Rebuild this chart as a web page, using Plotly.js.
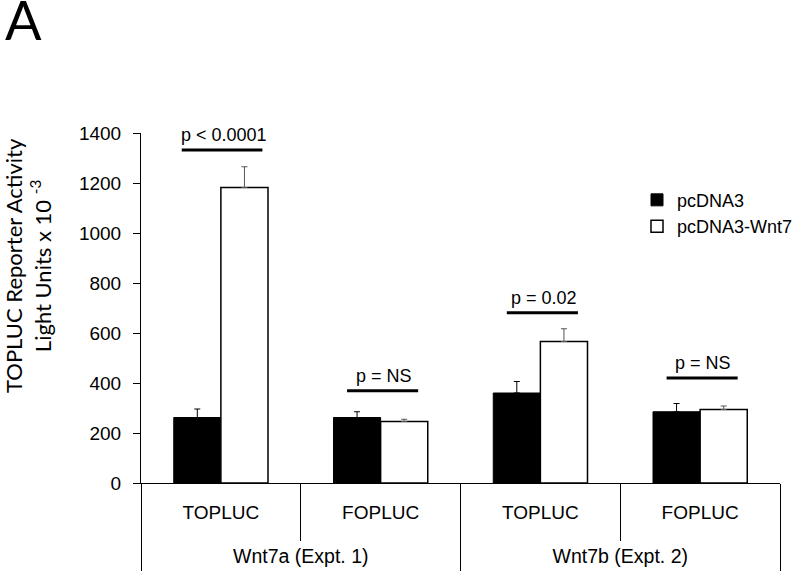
<!DOCTYPE html>
<html>
<head>
<meta charset="utf-8">
<script src="https://cdn.plot.ly/plotly-3.0.1.min.js"></script>
<style>html,body{margin:0;padding:0;background:#fff;}#chart{width:800px;height:574px;}</style>
</head>
<body>
<div id="chart"></div>
<script>
// ---- data ----
const groups = ['Wnt7a (Expt. 1)', 'Wnt7a (Expt. 1)', 'Wnt7b (Expt. 2)', 'Wnt7b (Expt. 2)'];
const reporters = ['TOPLUC', 'FOPLUC', 'TOPLUC', 'FOPLUC'];
const groupLabels = ['Wnt7a (Expt. 1)', 'Wnt7b (Expt. 2)'];
const seriesNames = ['pcDNA3', 'pcDNA3-Wnt7'];
const pcDNA3 = [262, 262, 360, 285];
const pcDNA3Err = [34, 23, 46, 33];
const wnt7 = [1182, 246, 566, 294];
const wnt7Err = [83, 9, 51, 14];
const sigLabels = ['p < 0.0001', 'p = NS', 'p = 0.02', 'p = NS'];
const sigLineY = [1332, 369, 681, 420];
const yTicks = [0, 200, 400, 600, 800, 1000, 1200, 1400];
const yTitle = 'TOPLUC Reporter Activity<br>Light Units x 10 <sup>-3</sup>';

// ---- build ----
const keys = groups.map((g, i) => g + ' | ' + reporters[i]);
const font = 'Liberation Sans, Arial, sans-serif';
const titleFont = 'Lato, Carlito, sans-serif';

const traces = [
  {
    type: 'bar', name: seriesNames[0], x: keys, y: pcDNA3,
    marker: {color: '#000000', line: {color: '#000000', width: 1}},
    error_y: {type: 'data', symmetric: false, array: pcDNA3Err, arrayminus: pcDNA3Err.map(() => 0),
              color: '#000000', thickness: 1, width: 3},
    hoverinfo: 'skip'
  },
  {
    type: 'bar', name: seriesNames[1], x: keys, y: wnt7,
    marker: {color: '#ffffff', line: {color: '#000000', width: 1.5}},
    error_y: {type: 'data', symmetric: false, array: wnt7Err, arrayminus: wnt7Err.map(() => 0),
              color: '#555555', thickness: 1, width: 3},
    hoverinfo: 'skip'
  },
  {
    type: 'scatter', mode: 'markers', x: groupLabels, y: groupLabels.map(() => 0),
    xaxis: 'x2', yaxis: 'y', marker: {opacity: 0}, showlegend: false, hoverinfo: 'skip'
  }
];

const shapes = sigLineY.map((yv, i) => ({
  type: 'line', xref: 'x', yref: 'y',
  x0: i - (i === 0 ? 0.245 : 0.21), x1: i + (i === 0 ? 0.26 : 0.235), y0: yv, y1: yv,
  line: {color: '#000000', width: 3}
}));

const annotations = sigLabels.map((t, i) => ({
  xref: 'x', yref: 'y', x: i + 0.02, y: sigLineY[i], yanchor: 'bottom', yshift: 3,
  text: t, showarrow: false, font: {family: font, size: 18, color: '#000'}
}));
annotations.push({
  xref: 'paper', yref: 'paper', x: (3 - 141) / 639, y: (483 - 20) / 350, xanchor: 'left', yanchor: 'middle',
  text: 'A', showarrow: false, font: {family: titleFont, size: 54, color: '#000'}
});
annotations.push({
  xref: 'paper', yref: 'paper', x: (28 - 141) / 639, y: (483 - 266) / 350, xanchor: 'center', yanchor: 'middle',
  text: yTitle, textangle: -90, showarrow: false, font: {family: titleFont, size: 22, color: '#000'}
});

const layout = {
  width: 800, height: 574,
  margin: {l: 141, r: 20, t: 133, b: 91, autoexpand: false},
  paper_bgcolor: '#ffffff', plot_bgcolor: '#ffffff',
  barmode: 'group', bargap: 0.41, bargroupgap: 0,
  font: {family: font, size: 18, color: '#000'},
  showlegend: true,
  legend: {x: (637 - 141) / 639, y: 0.861, xanchor: 'left', yanchor: 'top',
           font: {family: font, size: 18, color: '#000'}, bgcolor: 'rgba(0,0,0,0)', tracegroupgap: 0},
  xaxis: {
    type: 'category', tickmode: 'array', tickvals: keys, ticktext: reporters,
    ticks: 'outside', tickson: 'boundaries', ticklen: 57, tickcolor: '#000', tickwidth: 1,
    ticklabelstandoff: 12,
    showline: true, linecolor: '#000', linewidth: 1, showgrid: false, zeroline: false,
    tickfont: {family: font, size: 19, color: '#000'}
  },
  xaxis2: {
    type: 'category', overlaying: 'x', anchor: 'y', side: 'bottom', range: [-0.5, 1.5],
    ticks: 'outside', tickson: 'boundaries', ticklen: 87, tickcolor: '#000', tickwidth: 1,
    ticklabelstandoff: 59,
    showline: false, showgrid: false, zeroline: false,
    tickfont: {family: font, size: 19.5, color: '#000'}
  },
  yaxis: {
    range: [0, 1400], tickmode: 'array', tickvals: yTicks,
    ticks: 'outside', ticklen: 7, tickcolor: '#000', tickwidth: 1, ticklabelstandoff: 8,
    showline: true, linecolor: '#000', linewidth: 1, showgrid: false, zeroline: false,
    tickfont: {family: font, size: 19, color: '#000'}
  },
  shapes: shapes,
  annotations: annotations
};

Plotly.newPlot('chart', traces, layout, {displayModeBar: false, staticPlot: true});
</script>
</body>
</html>
